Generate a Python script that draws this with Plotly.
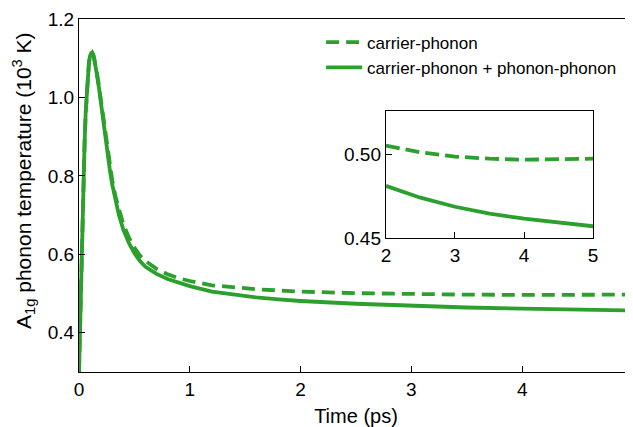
import plotly.graph_objects as go

# Time (ps)
time_ps = [0.0, 0.01, 0.02, 0.03, 0.04, 0.05, 0.06, 0.07, 0.08, 0.09, 0.10, 0.11, 0.12,
           0.13, 0.14, 0.16, 0.18, 0.20, 0.22, 0.24, 0.26, 0.28, 0.30, 0.33, 0.36, 0.40,
           0.45, 0.50, 0.55, 0.60, 0.70, 0.80, 0.90, 1.00, 1.20, 1.40, 1.60, 1.80, 2.00,
           2.50, 3.00, 3.50, 4.00, 4.50, 5.00]

# carrier-phonon + phonon-phonon (solid), 10^3 K
temp_cp_pp = [0.300, 0.440, 0.560, 0.680, 0.785, 0.880, 0.960, 1.020, 1.062, 1.090, 1.106, 1.113, 1.113,
              1.107, 1.095, 1.064, 1.025, 0.982, 0.937, 0.893, 0.852, 0.812, 0.778, 0.735, 0.700, 0.663,
              0.629, 0.603, 0.583, 0.568, 0.550, 0.537, 0.527, 0.519, 0.505, 0.497, 0.490, 0.485, 0.481,
              0.474, 0.4686, 0.4645, 0.4615, 0.4590, 0.4570]

# carrier-phonon only (dashed), 10^3 K
temp_cp = [0.300, 0.440, 0.560, 0.680, 0.785, 0.880, 0.960, 1.020, 1.062, 1.090, 1.106, 1.113, 1.114,
           1.108, 1.097, 1.067, 1.029, 0.987, 0.943, 0.900, 0.860, 0.821, 0.788, 0.747, 0.713, 0.677,
           0.643, 0.617, 0.597, 0.583, 0.563, 0.549, 0.539, 0.532, 0.521, 0.515, 0.511, 0.508, 0.505,
           0.501, 0.4985, 0.4972, 0.4966, 0.4967, 0.4972]

main_xticks = [0, 1, 2, 3, 4, 5]
main_yticks = [0.4, 0.6, 0.8, 1.0, 1.2]
inset_xticks = [2, 3, 4, 5]
inset_yticks = [0.45, 0.50]

GREEN = "#2ca02c"
FONT = "Liberation Sans, Arial, Helvetica, sans-serif"

inset_t = [t for t in time_ps if t >= 2.0]
inset_pp = [v for t, v in zip(time_ps, temp_cp_pp) if t >= 2.0]
inset_cp = [v for t, v in zip(time_ps, temp_cp) if t >= 2.0]

fig = go.Figure()
fig.add_trace(go.Scatter(x=time_ps, y=temp_cp, mode="lines", name="carrier-phonon",
                         legendgroup="a",
                         line=dict(color=GREEN, width=3.8, dash="13px,7px")))
fig.add_trace(go.Scatter(x=time_ps, y=temp_cp_pp, mode="lines",
                         name="carrier-phonon + phonon-phonon", legendgroup="b",
                         line=dict(color=GREEN, width=3.8)))
fig.add_trace(go.Scatter(x=inset_t, y=inset_cp, mode="lines", showlegend=False,
                         xaxis="x2", yaxis="y2",
                         line=dict(color=GREEN, width=3.8, dash="14px,6px")))
fig.add_trace(go.Scatter(x=inset_t, y=inset_pp, mode="lines", showlegend=False,
                         xaxis="x2", yaxis="y2",
                         line=dict(color=GREEN, width=3.8)))

axis_common = dict(showgrid=False, zeroline=False, showline=True, linecolor="black",
                   linewidth=1.3, mirror=True, ticks="inside", ticklen=6, tickwidth=1.3,
                   tickcolor="black", automargin=False,
                   tickfont=dict(size=19, color="black", family=FONT))

fig.update_layout(
    width=633, height=419,
    margin=dict(l=71, r=8, t=11, b=55),
    paper_bgcolor="white", plot_bgcolor="white",
    font=dict(family=FONT, color="black", size=19),
    xaxis=dict(range=[0, 5], tickvals=main_xticks, ticktext=[str(v) for v in main_xticks],
               title=dict(text="Time (ps)", font=dict(size=20), standoff=10), **axis_common),
    yaxis=dict(range=[0.3, 1.2], tickvals=main_yticks,
               ticktext=[f"{v:.1f}" for v in main_yticks], **axis_common),
    xaxis2=dict(domain=[0.554, 0.928], anchor="y2", range=[2, 5], tickvals=inset_xticks,
                ticktext=[str(v) for v in inset_xticks], **axis_common),
    yaxis2=dict(domain=[0.3796, 0.7394], anchor="x2", range=[0.45, 0.5256],
                tickvals=inset_yticks, ticktext=[f"{v:.2f}" for v in inset_yticks],
                **axis_common),
    legend=dict(x=0.437, y=0.984, xanchor="left", yanchor="top",
                bgcolor="rgba(0,0,0,0)", font=dict(size=17, color="black"),
                tracegroupgap=0, itemwidth=36),
    showlegend=True,
    annotations=[dict(text="A<sub>1g</sub> phonon temperature (10<sup>3</sup> K)",
                      textangle=-90, xref="paper", yref="paper", x=-0.0993, y=0.544,
                      xanchor="center", yanchor="middle", showarrow=False,
                      font=dict(size=21, color="black", family=FONT))],
)

fig.write_html("out.html")
